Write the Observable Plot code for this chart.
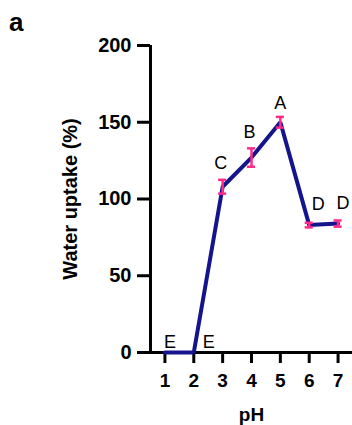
<!DOCTYPE html>
<html>
<head>
<meta charset="utf-8">
<script src="https://cdn.jsdelivr.net/npm/d3@7"></script>
<script src="https://cdn.jsdelivr.net/npm/@observablehq/plot@0.6"></script>
<style>
  html, body { margin: 0; padding: 0; background: #fff; }
  #wrap { position: relative; width: 352px; height: 425px; overflow: hidden; font-family: "Liberation Sans", Arial, sans-serif; }
  #panel { position: absolute; left: 9px; top: 9px; font-size: 26px; font-weight: bold; line-height: 1; }
</style>
</head>
<body>
<div id="wrap"><div id="panel">a</div></div>
<script>
const pH = [1, 2, 3, 4, 5, 6, 7];
const uptake = [0, 0, 108, 127, 150, 83, 84];
const sd = [0, 0, 4.5, 6, 3.5, 1.5, 2];
const letters = ["E", "E", "C", "B", "A", "D", "D"];
const yTicks = [0, 50, 100, 150, 200];
const xTicks = [1, 2, 3, 4, 5, 6, 7];

const data = pH.map((p, i) => ({pH: p, v: uptake[i], sd: sd[i], letter: letters[i]}));
const errData = data.filter(d => d.sd > 0);

const navy = "#14148c";
const pink = "#ff2b88";
const font = "Liberation Sans, Arial, sans-serif";

// per-letter label offsets (px)
const offs = [[5, -10], [15, -10], [-2, -23], [-2, -25], [0, -19], [9, -21], [5, -20]];
const letterMarks = data.map((d, i) =>
  Plot.text([d], {x: "pH", y: "v", text: "letter", dx: offs[i][0], dy: offs[i][1],
    fontSize: 18, fill: "#000", fontFamily: font})
);

const chart = Plot.plot({
  width: 352,
  height: 425,
  marginLeft: 150,
  marginRight: 0,
  marginTop: 45,
  marginBottom: 73,
  style: {fontFamily: font, background: "transparent", overflow: "visible"},
  x: {domain: [0.5, 7.5]},
  y: {domain: [0, 200]},
  marks: [
    Plot.axisY({ticks: yTicks, tickSize: 13, tickPadding: 6, strokeWidth: 3,
      fontSize: 20, fontWeight: "bold", tickFormat: d => d, fill: "#000",
      label: "Water uptake (%)", labelAnchor: "center", labelArrow: "none", labelOffset: 88}),
    Plot.axisX({ticks: xTicks, tickSize: 11, tickPadding: 10, strokeWidth: 3,
      fontSize: 19, fontWeight: "bold", tickFormat: d => d, fill: "#000",
      label: "pH", labelAnchor: "center", labelArrow: "none", labelOffset: 68}),
    Plot.ruleX([0.5], {y1: 0, y2: 200, strokeWidth: 3, stroke: "#000"}),
    Plot.ruleY([0], {strokeWidth: 3, stroke: "#000"}),
    Plot.line(data, {x: "pH", y: "v", stroke: navy, strokeWidth: 4, strokeLinejoin: "miter"}),
    Plot.ruleX(errData, {x: "pH", y1: d => d.v - d.sd, y2: d => d.v + d.sd, stroke: pink, strokeWidth: 2.5}),
    Plot.ruleY(errData, {y: d => d.v - d.sd, x1: d => d.pH - 0.14, x2: d => d.pH + 0.14, stroke: pink, strokeWidth: 2.5}),
    Plot.ruleY(errData, {y: d => d.v + d.sd, x1: d => d.pH - 0.14, x2: d => d.pH + 0.14, stroke: pink, strokeWidth: 2.5}),
    ...letterMarks
  ]
});
chart.style.position = "absolute";
chart.style.left = "0";
chart.style.top = "0";
document.getElementById("wrap").prepend(chart);
</script>
</body>
</html>
